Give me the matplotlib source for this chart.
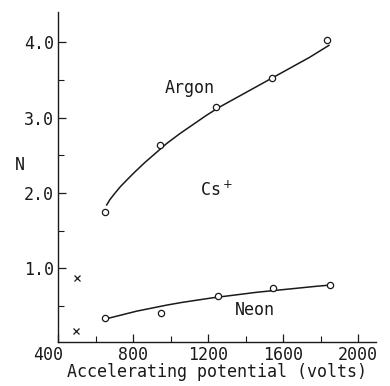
import matplotlib
matplotlib.use("Agg")
import matplotlib.pyplot as plt
from matplotlib.ticker import MultipleLocator
import matplotlib.transforms as mtrans

# measured points
argon_v = [650, 945, 1240, 1540, 1835]
argon_n = [1.74, 2.64, 3.14, 3.53, 4.03]
neon_v = [648, 948, 1250, 1543, 1848]
neon_n = [0.335, 0.41, 0.63, 0.74, 0.78]
cross_v = [500, 495]
cross_n = [0.87, 0.16]

# smooth curves drawn through the points
argon_fit_v = [658, 675, 700, 730, 765, 809, 860, 920, 980, 1050, 1120, 1190,
               1260, 1340, 1420, 1500, 1580, 1660, 1740, 1844]
argon_fit_n = [1.84, 1.91, 1.99, 2.08, 2.17, 2.28, 2.40, 2.53, 2.66, 2.79, 2.91, 3.03,
               3.14, 3.25, 3.36, 3.47, 3.58, 3.69, 3.80, 3.96]
neon_fit_v = [660, 740, 820, 900, 980, 1060, 1140, 1220, 1300, 1380, 1460, 1540,
              1620, 1700, 1780, 1850]
neon_fit_n = [0.33, 0.38, 0.43, 0.47, 0.51, 0.545, 0.575, 0.605, 0.63, 0.655, 0.68, 0.70,
              0.72, 0.74, 0.76, 0.775]

xticks = [400, 800, 1200, 1600, 2000]
yticks = [1.0, 2.0, 3.0, 4.0]

plt.rcParams['font.family'] = 'DejaVu Sans Mono'
fig = plt.figure(figsize=(3.9, 3.86), dpi=100)
ax = fig.add_axes([0.1496, 0.1132, 0.8134, 0.857])

ink = '#1a1a1a'
ax.plot(argon_fit_v, argon_fit_n, '-', color=ink, lw=1.1)
ax.plot(neon_fit_v, neon_fit_n, '-', color=ink, lw=1.1)
ax.plot(argon_v, argon_n, 'o', mfc='white', mec=ink, ms=4.5, mew=0.9)
ax.plot(neon_v, neon_n, 'o', mfc='white', mec=ink, ms=4.5, mew=0.9)
ax.plot(cross_v, cross_n, 'x', color=ink, ms=4, mew=0.9)

ax.text(1102, 3.40, 'Argon', fontsize=12, ha='center', va='center', color=ink)
ax.text(1246, 2.04, 'Cs$^+$', fontsize=12, ha='center', va='center', color=ink)
ax.text(1449, 0.445, 'Neon', fontsize=12, ha='center', va='center', color=ink)

ax.set_xlim(400, 2093)
ax.set_ylim(0.015, 4.41)
ax.set_xticks(xticks)
ax.set_yticks(yticks)
ax.set_yticklabels(['1.0', '2.0', '3.0', '4.0'])
ax.xaxis.set_minor_locator(MultipleLocator(200))
ax.yaxis.set_minor_locator(MultipleLocator(0.5))
ax.tick_params(which='major', direction='in', length=6, width=0.9, labelsize=12,
               colors=ink, pad=3)
ax.tick_params(which='minor', direction='in', length=4, width=0.8, colors=ink)
for s in ['top', 'right']:
    ax.spines[s].set_visible(False)
for s in ['left', 'bottom']:
    ax.spines[s].set_linewidth(1.0)
    ax.spines[s].set_color(ink)

# first x label sits left of the axis
lab = ax.get_xticklabels()[0]
lab.set_transform(lab.get_transform() + mtrans.ScaledTranslation(-10/100, 0, fig.dpi_scale_trans))

ax.set_xlabel('Accelerating potential (volts)', fontsize=12, labelpad=-1, color=ink)
ax.set_ylabel('N', fontsize=12, rotation=0, color=ink, va='center', ha='center')
ax.yaxis.set_label_coords(-0.121, 0.536)

fig.savefig('out.png', dpi=100)
